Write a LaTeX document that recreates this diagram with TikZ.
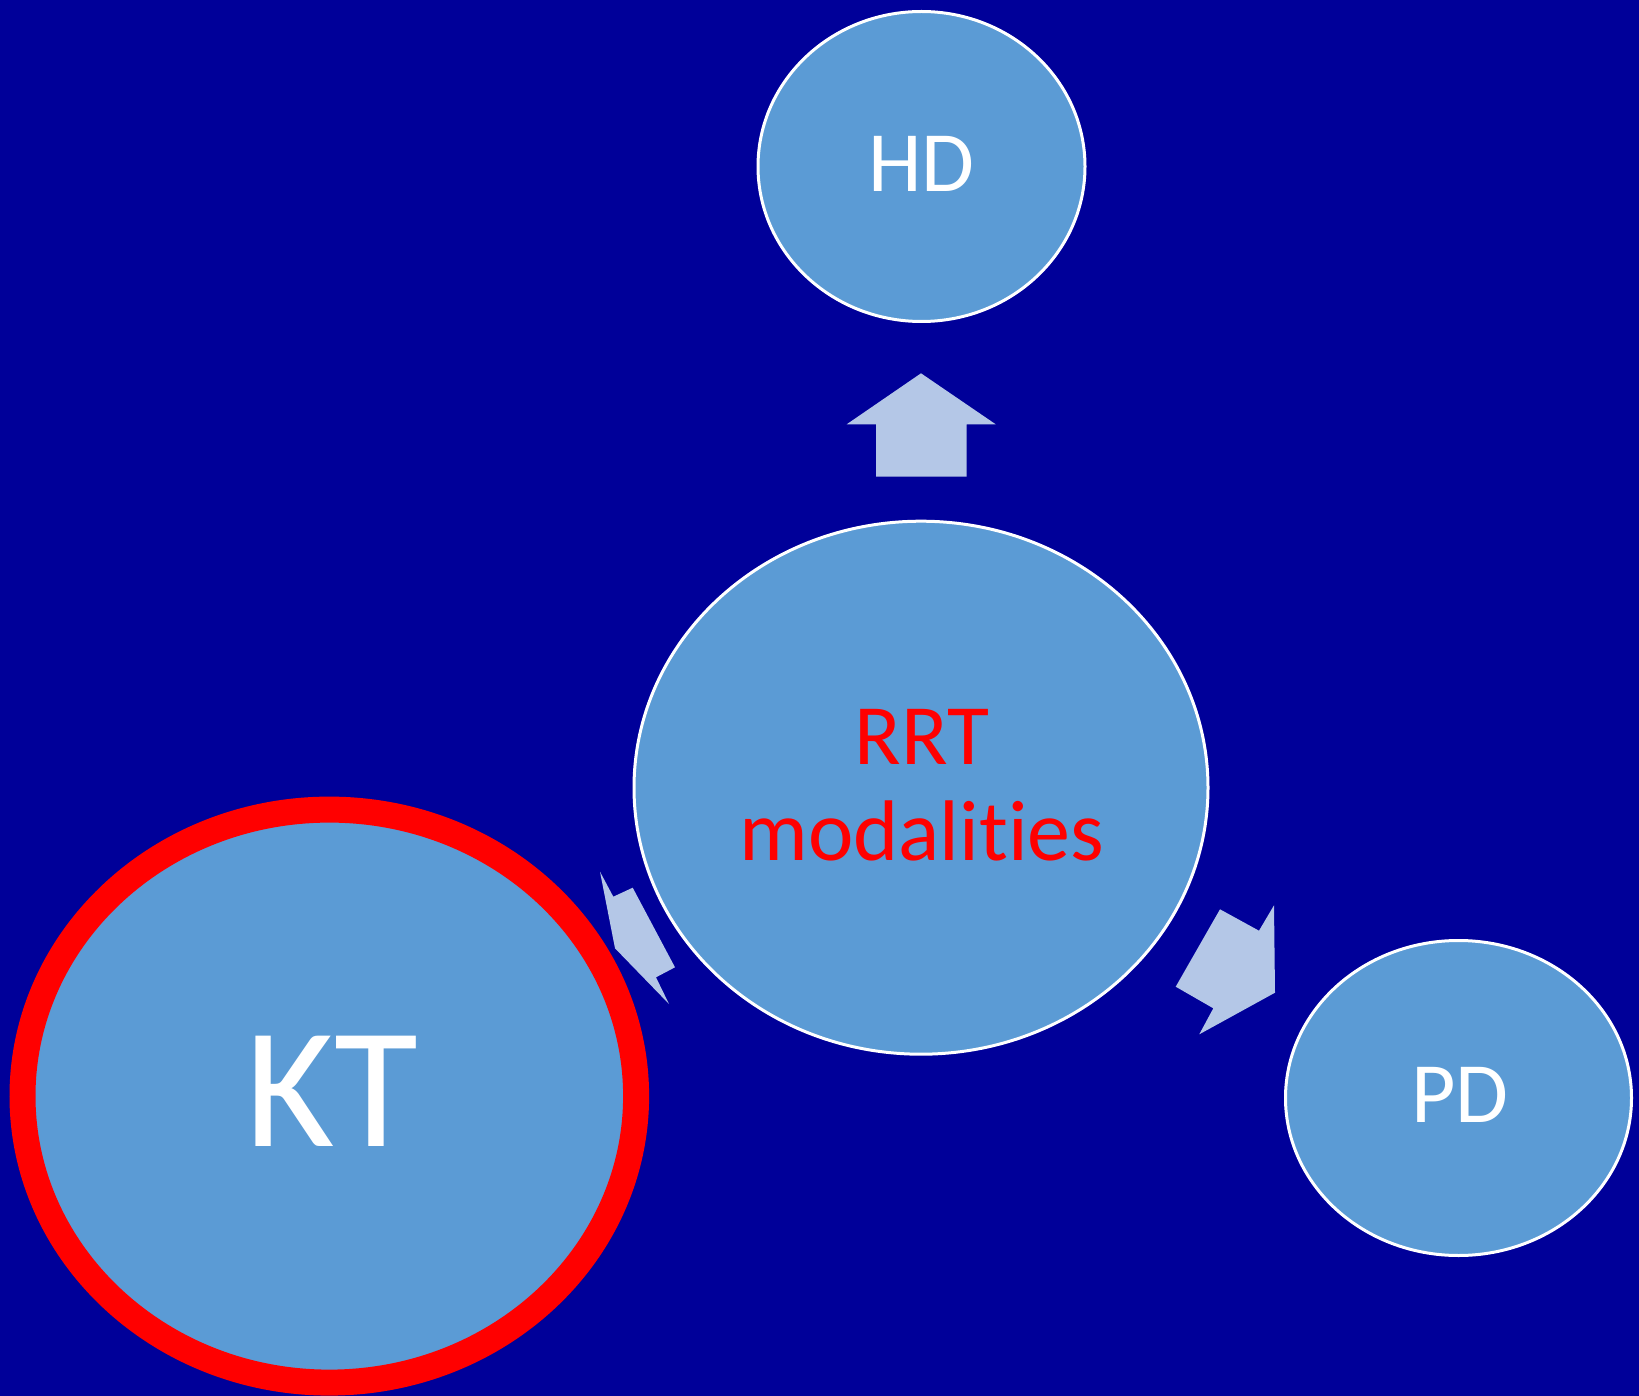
\documentclass[tikz,border=0pt]{standalone}
\usepackage{fontspec}
\newfontfamily\calfont[Ligatures=NoCommon]{Carlito}
\usetikzlibrary{shapes.geometric}

\definecolor{slidebg}{HTML}{000099}
\definecolor{bubble}{HTML}{5B9BD5}
\definecolor{arrowfill}{HTML}{B4C7E7}
\definecolor{alertred}{HTML}{FF0000}

\tikzset{
  bubblebox/.style={ellipse, fill=bubble, draw=white, line width=3pt, inner sep=0pt},
  label86/.style={font=\calfont\fontsize{86}{100}\selectfont, text=white, anchor=base, inner sep=0pt},
  blockarrow/.style={fill=arrowfill, draw=none},
}

\begin{document}
\begin{tikzpicture}[x=1pt, y=-1pt]
  % canvas
  \fill[slidebg] (0,0) rectangle (1639,1396);
  \useasboundingbox (0,0) rectangle (1639,1396);

  % bubbles
  \node[bubblebox, minimum width=327pt, minimum height=310pt] (hd)  at (921.5,166.5) {};
  \node[bubblebox, minimum width=574pt, minimum height=533pt] (rrt) at (921,787.7) {};
  \node[bubblebox, minimum width=346pt, minimum height=315pt] (pd)  at (1458.5,1098) {};
  \node[ellipse, fill=bubble, draw=alertred, line width=26pt, inner sep=0pt,
        minimum width=613.6pt, minimum height=573pt] (kt) at (329.3,1096.1) {};

  % block arrows from the centre bubble
  \fill[blockarrow] (921,373.3) -- (995.7,424.3) -- (966.7,424.3) -- (966.7,476.7)
        -- (876,476.7) -- (876,424.3) -- (846.7,424.3) -- cycle;
  \fill[blockarrow] (1220,909.3) -- (1259,930.7) -- (1274,905.3) -- (1275,992.7)
        -- (1199.3,1034.3) -- (1213.3,1008.3) -- (1175.7,986.7) -- cycle;
  \fill[blockarrow] (600,871.7) -- (613.3,896.7) -- (632.7,887.7) -- (675,967.3)
        -- (656,977.3) -- (669,1004) -- (615,948.3) -- cycle;

  % labels
  \node[label86] (hdtext) at (921.5,191.7) {HD};
  \node[label86] (pdtext) at (1460,1122.7) {PD};
  \node[label86, text=alertred] (rrttext) at (922,764) {RRT};
  \node[label86, text=alertred] (modtext) at (922,860.7) {modalities};
  \node[label86, font=\calfont\fontsize{172}{200}\selectfont] (kttext) at (332,1146) {KT};
\end{tikzpicture}
\end{document}
